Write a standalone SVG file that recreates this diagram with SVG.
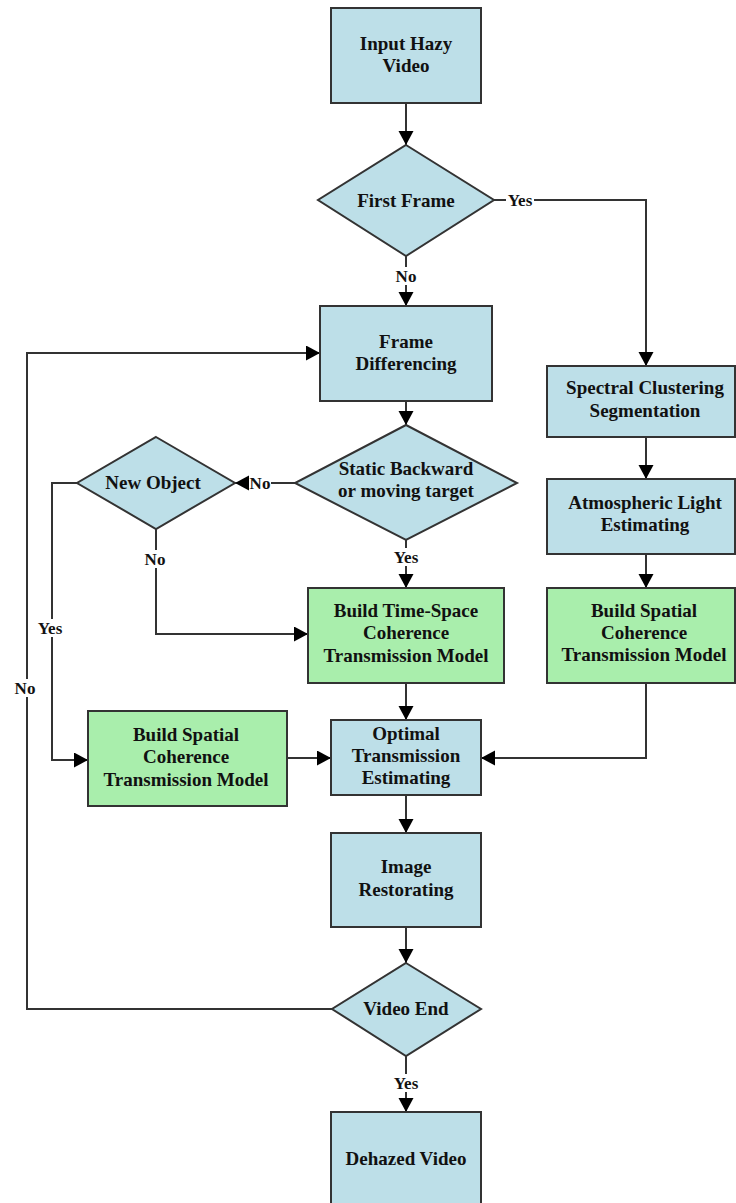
<svg xmlns="http://www.w3.org/2000/svg" width="736" height="1203" viewBox="0 0 736 1203">
<defs>
<marker id="arr" markerUnits="userSpaceOnUse" markerWidth="16" markerHeight="16" refX="14" refY="7.5" orient="auto">
<path d="M0,0 L14,7.5 L0,15 z" fill="#000"/>
</marker>
</defs>
<style>
.blue{fill:#bddfe8;stroke:#333;stroke-width:2}
.green{fill:#a9eeac;stroke:#333;stroke-width:2}
.t{font-family:"Liberation Serif","Times New Roman",serif;font-weight:bold;font-size:19px;fill:#111;text-anchor:middle}
.lbl{font-family:"Liberation Serif","Times New Roman",serif;font-weight:bold;font-size:17px;fill:#111;text-anchor:middle}
.c{fill:none;stroke:#333;stroke-width:2;marker-end:url(#arr)}
.cn{fill:none;stroke:#333;stroke-width:2}
.bg{fill:#fff}
</style>
<rect width="736" height="1203" fill="#fff"/>
<g id="connectors">
<path class="c" d="M406 103 V145"/>
<path class="c" d="M406 256 V306"/>
<path class="c" d="M494 200 H646 V366"/>
<path class="c" d="M406 401 V425"/>
<path class="c" d="M295 483 H235"/>
<path class="c" d="M406 540 V588"/>
<path class="c" d="M156 529 V634 H308"/>
<path class="c" d="M77 483 H52 V760 H88"/>
<path class="c" d="M406 683 V720"/>
<path class="c" d="M287 758 H331"/>
<path class="c" d="M646 683 V758 H481"/>
<path class="c" d="M646 437 V479"/>
<path class="c" d="M646 554 V588"/>
<path class="c" d="M406 795 V833"/>
<path class="c" d="M406 927 V963"/>
<path class="c" d="M406 1056 V1112"/>
<path class="c" d="M332 1009 H27 V353 H320"/>
<g id="labels">
<rect class="bg" x="506" y="191" width="28" height="18"/>
<text class="lbl" x="520" y="206">Yes</text>
<rect class="bg" x="395" y="267" width="22" height="18"/>
<text class="lbl" x="406" y="282">No</text>
<rect class="bg" x="249" y="474" width="22" height="18"/>
<text class="lbl" x="260" y="489">No</text>
<rect class="bg" x="392" y="548" width="28" height="18"/>
<text class="lbl" x="406" y="563">Yes</text>
<rect class="bg" x="144" y="550" width="22" height="18"/>
<text class="lbl" x="155" y="565">No</text>
<rect class="bg" x="37" y="619" width="27" height="18"/>
<text class="lbl" x="50" y="634">Yes</text>
<rect class="bg" x="14" y="679" width="22" height="18"/>
<text class="lbl" x="25" y="694">No</text>
<rect class="bg" x="392" y="1074" width="28" height="18"/>
<text class="lbl" x="406" y="1089">Yes</text>
</g>
</g>
<g id="input">
<rect class="blue" x="331" y="8" width="150" height="95"/>
<text class="t" x="406" y="50">Input Hazy</text>
<text class="t" x="406" y="72">Video</text>
</g>
<g id="firstframe">
<polygon class="blue" points="406,145 494,200 406,256 318,200"/>
<text class="t" x="406" y="207">First Frame</text>
</g>
<g id="framediff">
<rect class="blue" x="320" y="306" width="172" height="95"/>
<text class="t" x="406" y="348">Frame</text>
<text class="t" x="406" y="370">Differencing</text>
</g>
<g id="static">
<polygon class="blue" points="406,425 517,483 406,540 295,483"/>
<text class="t" x="406" y="475">Static Backward</text>
<text class="t" x="406" y="497">or moving target</text>
</g>
<g id="newobject">
<polygon class="blue" points="156,437 235,483 156,529 77,483"/>
<text class="t" x="153" y="489">New Object</text>
</g>
<g id="timespace">
<rect class="green" x="308" y="588" width="196" height="95"/>
<text class="t" x="406" y="617">Build Time-Space</text>
<text class="t" x="406" y="639">Coherence</text>
<text class="t" x="406" y="662">Transmission Model</text>
</g>
<g id="spatial-left">
<rect class="green" x="88" y="711" width="199" height="95"/>
<text class="t" x="186" y="741">Build Spatial</text>
<text class="t" x="186" y="763">Coherence</text>
<text class="t" x="186" y="786">Transmission Model</text>
</g>
<g id="optimal">
<rect class="blue" x="331" y="720" width="150" height="75"/>
<text class="t" x="406" y="740">Optimal</text>
<text class="t" x="406" y="762">Transmission</text>
<text class="t" x="406" y="784">Estimating</text>
</g>
<g id="spectral">
<rect class="blue" x="547" y="366" width="188" height="71"/>
<text class="t" x="645" y="394">Spectral Clustering</text>
<text class="t" x="645" y="417">Segmentation</text>
</g>
<g id="atmospheric">
<rect class="blue" x="547" y="479" width="188" height="75"/>
<text class="t" x="645" y="509">Atmospheric Light</text>
<text class="t" x="645" y="531">Estimating</text>
</g>
<g id="spatial-right">
<rect class="green" x="547" y="588" width="188" height="95"/>
<text class="t" x="644" y="617">Build Spatial</text>
<text class="t" x="644" y="639">Coherence</text>
<text class="t" x="644" y="661">Transmission Model</text>
</g>
<g id="image">
<rect class="blue" x="331" y="833" width="150" height="94"/>
<text class="t" x="406" y="873">Image</text>
<text class="t" x="406" y="896">Restorating</text>
</g>
<g id="videoend">
<polygon class="blue" points="406,963 481,1009 406,1056 332,1009"/>
<text class="t" x="406" y="1015">Video End</text>
</g>
<g id="dehazed">
<rect class="blue" x="331" y="1112" width="150" height="100"/>
<text class="t" x="406" y="1165">Dehazed Video</text>
</g>
</svg>
